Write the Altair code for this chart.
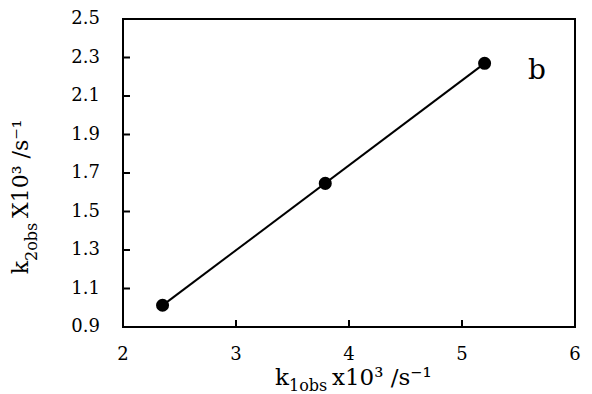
import altair as alt
import pandas as pd

# data
k1obs = [2.35, 3.79, 5.20]
k2obs = [1.013, 1.646, 2.270]

x_tick_values = [2, 3, 4, 5, 6]
x_tick_labels = ["2", "3", "4", "5", "6"]
y_tick_values = [0.9, 1.1, 1.3, 1.5, 1.7, 1.9, 2.1, 2.3, 2.5]
y_tick_labels = ["0.9", "1.1", "1.3", "1.5", "1.7", "1.9", "2.1", "2.3", "2.5"]
x_inner_ticks = [3, 4, 5]
y_inner_ticks = [1.1, 1.3, 1.5, 1.7, 1.9, 2.1, 2.3]

x_title_parts = ["k", "1obs", "x10\u00b3 /s\u207b\u00b9"]
y_title_parts = ["k", "2obs", "X10\u00b3 /s\u207b\u00b9"]
panel_label = "b"

FONT = "DejaVu Serif"
W, H = 452, 308

df = pd.DataFrame({"x": k1obs, "y": k2obs})

xs = alt.Scale(domain=[2, 6], nice=False, zero=False)
ys = alt.Scale(domain=[0.9, 2.5], nice=False, zero=False)

base = alt.Chart(df)

fit = base.transform_regression("x", "y").mark_line(color="black", strokeWidth=2).encode(
    x=alt.X("x:Q", scale=xs, axis=None),
    y=alt.Y("y:Q", scale=ys, axis=None),
)
pts = base.mark_circle(color="black", opacity=1, size=170).encode(
    x=alt.X("x:Q", scale=xs, axis=None),
    y=alt.Y("y:Q", scale=ys, axis=None),
)

xt = alt.Chart(pd.DataFrame({"v": x_inner_ticks})).mark_rule(color="black", strokeWidth=2).encode(
    x=alt.X("v:Q", scale=xs, axis=None), y=alt.value(H), y2=alt.value(H - 7)
)
yt = alt.Chart(pd.DataFrame({"v": y_inner_ticks})).mark_rule(color="black", strokeWidth=2).encode(
    y=alt.Y("v:Q", scale=ys, axis=None), x=alt.value(0), x2=alt.value(7)
)

xl = alt.Chart(pd.DataFrame({"v": x_tick_values, "t": x_tick_labels})).mark_text(
    font=FONT, fontSize=18, align="center", baseline="middle", color="black"
).encode(x=alt.X("v:Q", scale=xs, axis=None), y=alt.value(H + 28), text="t:N")

yl = alt.Chart(pd.DataFrame({"v": y_tick_values, "t": y_tick_labels})).mark_text(
    font=FONT, fontSize=18, align="right", baseline="middle", color="black"
).encode(y=alt.Y("v:Q", scale=ys, axis=None), x=alt.value(-23), text="t:N")

frame = alt.Chart(pd.DataFrame({"t": [0]})).mark_rect(
    filled=False, stroke="black", strokeWidth=2
).encode(x=alt.value(0), x2=alt.value(W), y=alt.value(0), y2=alt.value(H))


def txt(s, x, y, size, align="left", angle=0):
    return alt.Chart(pd.DataFrame({"t": [s]})).mark_text(
        font=FONT, fontSize=size, align=align, baseline="alphabetic", angle=angle, color="black"
    ).encode(text="t:N", x=alt.value(x), y=alt.value(y))


J1, J2 = 166, 209
xtitle = [
    txt(x_title_parts[0], J1, 366, 23, align="right"),
    txt(x_title_parts[1], J1, 372, 16),
    txt(x_title_parts[2], J2, 366, 23),
]
Jy1, Jy2 = 242, 199
ytitle = [
    txt(y_title_parts[0], -95, Jy1, 22, align="right", angle=270),
    txt(y_title_parts[1], -86, Jy1, 16, angle=270),
    txt(y_title_parts[2], -95, Jy2, 22, angle=270),
]
lab = txt(panel_label, 414, 60, 28, align="center")

chart = alt.layer(fit, pts, xt, yt, xl, yl, frame, *xtitle, *ytitle, lab).properties(
    width=W, height=H,
    background="white",
    autosize=alt.AutoSizeParams(type="none"),
    padding={"left": 115, "top": 11, "right": 9, "bottom": 67},
).configure_view(stroke=None)

chart.save("out.html", embed_options={"renderer": "svg", "actions": False})
